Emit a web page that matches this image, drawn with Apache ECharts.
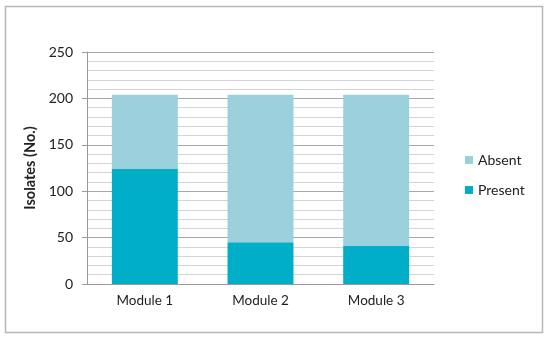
<!DOCTYPE html>
<html><head><meta charset="utf-8">
<script src="https://cdn.jsdelivr.net/npm/echarts@6/dist/echarts.min.js"></script>
<style>html,body{margin:0;padding:0;background:#fff}#c{width:550px;height:339px}</style>
</head><body><div id="c"></div>
<script>
const categories = ['Module 1', 'Module 2', 'Module 3'];
const present = [124, 45, 41];
const absent = [80, 159, 163];
const yTicks = [0, 50, 100, 150, 200, 250];

const chart = echarts.init(document.getElementById('c'));
const font = 'Lato';
chart.setOption({
  animation: false,
  textStyle: {fontFamily: font},
  graphic: [{type: 'rect', shape: {x: 5.5, y: 6.5, width: 537, height: 326}, style: {fill: 'none', stroke: '#b8b8b8', lineWidth: 1.5}, silent: true}],
  grid: {left: 87, right: 116, top: 52, bottom: 55},
  legend: {
    orient: 'vertical', left: 460, top: 148, itemGap: 16,
    itemWidth: 8, itemHeight: 8, icon: 'rect',
    textStyle: {fontFamily: font, fontSize: 14, color: '#222'},
    data: ['Absent', 'Present']
  },
  xAxis: {
    type: 'category', data: categories,
    axisLine: {lineStyle: {color: '#999', width: 1}},
    axisTick: {show: false},
    axisLabel: {color: '#222', fontSize: 13.5, margin: 10, fontFamily: font}
  },
  yAxis: {
    type: 'value', min: yTicks[0], max: yTicks[yTicks.length - 1], interval: 50,
    name: 'Isolates (No.)', nameLocation: 'middle', nameGap: 46,
    nameTextStyle: {fontWeight: 'bold', fontSize: 14.5, color: '#222', fontFamily: font},
    axisLine: {show: true, lineStyle: {color: '#999'}},
    axisTick: {show: true, length: 5, lineStyle: {color: '#999'}},
    axisLabel: {color: '#222', fontSize: 14, margin: 14, fontFamily: font},
    splitLine: {lineStyle: {color: '#a8a8a8', width: 1}},
    minorTick: {show: false, splitNumber: 5},
    minorSplitLine: {show: true, lineStyle: {color: '#d4d4d4', width: 1}}
  },
  series: [
    {name: 'Present', type: 'bar', stack: 's', data: present, barWidth: '57%', itemStyle: {color: '#00aec8'}},
    {name: 'Absent', type: 'bar', stack: 's', data: absent, barWidth: '57%', itemStyle: {color: '#9bd0dd'}}
  ]
});
</script></body></html>
